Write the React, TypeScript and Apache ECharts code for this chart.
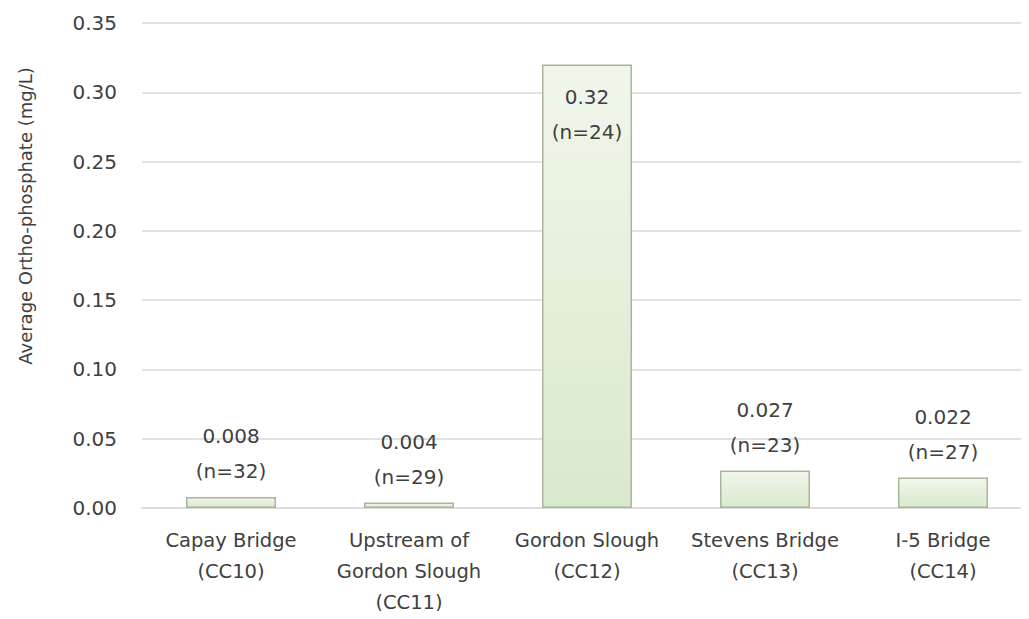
import React, { useEffect, useRef } from "react";
import * as echarts from "echarts";

const categories = [
  "Capay Bridge\n(CC10)",
  "Upstream of\nGordon Slough\n(CC11)",
  "Gordon Slough\n(CC12)",
  "Stevens Bridge\n(CC13)",
  "I-5 Bridge\n(CC14)",
];
const values = [0.008, 0.004, 0.32, 0.027, 0.022];
const valueLabels = ["0.008", "0.004", "0.32", "0.027", "0.022"];
const counts = [32, 29, 24, 23, 27];
const yTitle = "Average Ortho-phosphate (mg/L)";

const FONT = "'DejaVu Sans', 'Open Sans', sans-serif";

export default function App() {
  const ref = useRef<HTMLDivElement>(null);
  useEffect(() => {
    if (!ref.current) return;
    const chart = echarts.init(ref.current, undefined, { renderer: "svg" });
    const barFill = new echarts.graphic.LinearGradient(0, 0, 0, 1, [
      { offset: 0, color: "#f1f6eb" },
      { offset: 1, color: "#d9e9cd" },
    ]);
    chart.setOption({
      animation: false,
      backgroundColor: "#ffffff",
      grid: {
        left: 142,
        width: 890,
        top: 23,
        bottom: 111,
        containLabel: false,
        outerBoundsMode: "none",
      },
      xAxis: {
        type: "category",
        data: categories,
        axisTick: { show: false },
        axisLine: { lineStyle: { color: "#d9d9d9", width: 1.5 } },
        axisLabel: {
          color: "#404040",
          fontFamily: FONT,
          fontSize: 19.5,
          lineHeight: 31,
          margin: 17,
          interval: 0,
          hideOverlap: false,
        },
      },
      yAxis: {
        type: "value",
        min: 0,
        max: 0.35,
        interval: 0.05,
        axisLine: { show: false },
        axisTick: { show: false },
        splitLine: { lineStyle: { color: "#d9d9d9", width: 1.5 } },
        axisLabel: {
          color: "#404040",
          fontFamily: FONT,
          fontSize: 20,
          margin: 25,
          formatter: (v: number) => v.toFixed(2),
        },
      },
      graphic: [
        {
          type: "text",
          x: 25,
          y: 216,
          rotation: Math.PI / 2,
          style: {
            text: yTitle,
            fill: "#404040",
            font: `18px ${FONT}`,
            align: "center",
            verticalAlign: "middle",
          },
        },
      ],
      series: [
        {
          type: "bar",
          barWidth: 90,
          data: values.map((v) => ({
            value: v,
            label:
              v > 0.2
                ? { position: "insideTop", distance: 15 }
                : { position: "top", distance: 8 },
          })),
          itemStyle: { color: barFill, borderColor: "#a9b59e", borderWidth: 1.5 },
          label: {
            show: true,
            color: "#404040",
            fontFamily: FONT,
            fontSize: 20,
            lineHeight: 35,
            formatter: (p: any) =>
              `${valueLabels[p.dataIndex]}\n(n=${counts[p.dataIndex]})`,
          },
        },
      ],
    });
    return () => chart.dispose();
  }, []);
  return <div ref={ref} style={{ width: 1029, height: 619, margin: -8 }} />;
}
